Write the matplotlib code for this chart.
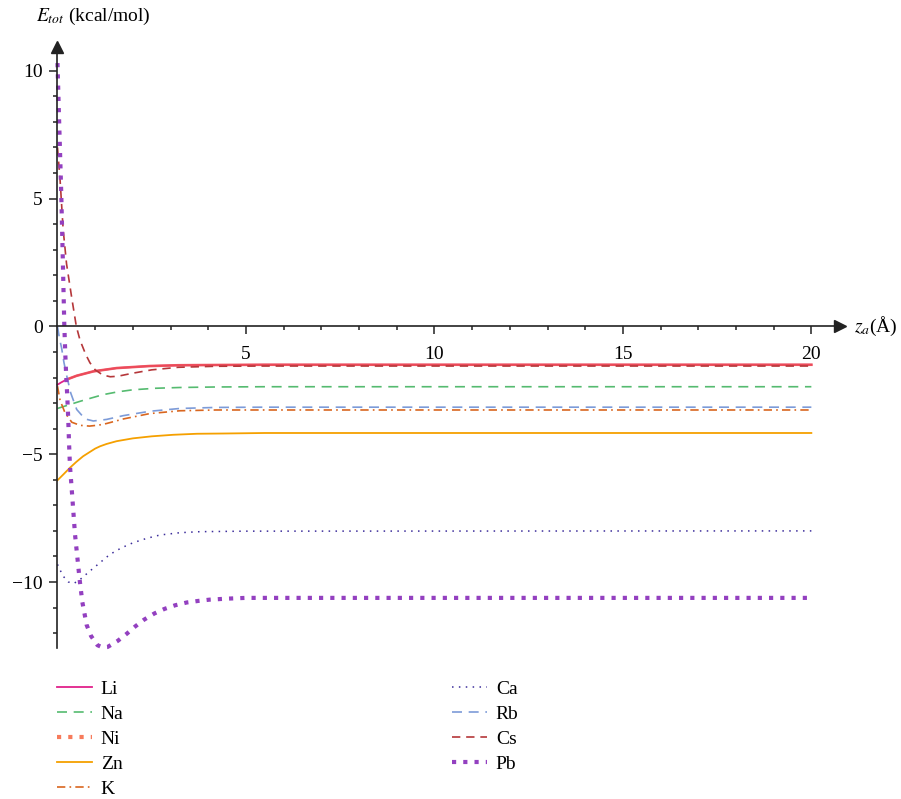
import matplotlib.pyplot as plt
from matplotlib.lines import Line2D

plt.rcParams["font.family"] = ["Liberation Serif", "DejaVu Serif"]
plt.rcParams["mathtext.fontset"] = "stix"

# Energia total frente a la distancia z_a (Angstrom) para cada adsorbato
li_x = [0, 0.1, 0.24, 0.51, 0.95, 1.57, 2.45, 3.2, 4.2, 5.5, 20]
li_y = [-2.28, -2.19, -2.08, -1.93, -1.76, -1.63, -1.55, -1.52, -1.51, -1.50, -1.50]

na_x = [0, 0.3, 0.6, 0.9, 1.21, 1.6, 2.0, 2.6, 3.25, 4.2, 5.5, 20]
na_y = [-3.21, -3.07, -2.93, -2.8, -2.67, -2.56, -2.48, -2.42, -2.39, -2.37, -2.36, -2.36]

ni_x = [0.24, 0.51, 0.95, 1.57, 2.45, 3.2, 4.2, 5.5, 20]
ni_y = [-2.08, -1.93, -1.76, -1.63, -1.55, -1.52, -1.51, -1.50, -1.50]

zn_x = [0, 0.15, 0.33, 0.5, 0.68, 0.85, 1.0, 1.13, 1.3, 1.57, 2.0, 2.5, 3.07, 3.7, 4.4, 5.5, 20]
zn_y = [-6.02, -5.8, -5.53, -5.3, -5.08, -4.92, -4.78, -4.69, -4.6, -4.49, -4.38, -4.3,
        -4.24, -4.2, -4.19, -4.17, -4.17]

k_x = [0, 0.07, 0.2, 0.38, 0.6, 0.85, 1.1, 1.3, 1.75, 2.45, 3.25, 4.2, 5.5, 20]
k_y = [-2.34, -2.9, -3.38, -3.75, -3.87, -3.9, -3.86, -3.8, -3.62, -3.41, -3.3, -3.27, -3.27, -3.27]

ca_x = [0, 0.07, 0.15, 0.29, 0.44, 0.6, 0.86, 1.13, 1.39, 1.7, 2.01, 2.37, 2.72, 3.25, 3.78, 5.0, 20]
ca_y = [-9.31, -9.53, -9.77, -10.0, -10.05, -9.9, -9.57, -9.24, -8.92, -8.66, -8.46, -8.29, -8.16, -8.07, -8.03, -8.01, -8.0]

rb_x = [0, 0.05, 0.11, 0.17, 0.24, 0.35, 0.51, 0.73, 0.95, 1.3, 1.75, 2.45, 3.25, 4.2, 5.5, 20]
rb_y = [0.0, -0.45, -0.85, -1.4, -1.9, -2.6, -3.25, -3.62, -3.7, -3.64, -3.49, -3.32, -3.21, -3.17, -3.16, -3.16]

cs_x = [0, 0.07, 0.15, 0.24, 0.38, 0.5, 0.6, 0.75, 0.86, 1.0, 1.2, 1.4, 1.6, 2.0, 2.5, 3.2, 4.2, 5.5, 20]
cs_y = [7.0, 5.7, 3.8, 2.45, 1.1, 0.0, -0.55, -1.1, -1.42, -1.7, -1.9, -1.97, -1.95, -1.83, -1.7, -1.6, -1.56, -1.55, -1.55]

pb_x = [0, 0.05, 0.1, 0.14, 0.18, 0.205, 0.23, 0.26, 0.285, 0.305, 0.33, 0.376, 0.42, 0.464,
        0.526, 0.588, 0.66, 0.774, 0.89, 1.06, 1.2, 1.33, 1.6, 1.84, 2.06, 2.3, 2.57, 2.84,
        3.12, 3.43, 3.73, 4.03, 4.5, 5.0, 20]
pb_y = [10.3, 7.7, 5.2, 2.7, 0.1, -1.0, -1.9, -2.75, -3.6, -4.5, -5.43, -6.34, -7.23, -8.12,
        -9.02, -9.91, -10.79, -11.68, -12.11, -12.47, -12.56, -12.54, -12.3, -12.02, -11.74,
        -11.47, -11.23, -11.05, -10.91, -10.8, -10.74, -10.69, -10.65, -10.62, -10.62]

fig = plt.figure(figsize=(9.01, 7.99), dpi=100)
ax = fig.add_axes([0.0638, 0.189, 0.8685, 0.7522])

li, = ax.plot(li_x, li_y, color="#e0218a", lw=1.3, label="Li")
na, = ax.plot(na_x, na_y, color="#55bb70", lw=1.2, ls=(0, (6, 4)), label="Na")
ax.plot(ni_x, ni_y, color="#ee4f55", lw=1.9, alpha=0.9)
zn, = ax.plot(zn_x, zn_y, color="#f5a000", lw=1.3, label="Zn")
k, = ax.plot(k_x, k_y, color="#d9661f", lw=1.2, ls=(0, (5, 2.5, 1, 2.5)), label="K")
ca, = ax.plot(ca_x, ca_y, color="#3c2d9b", lw=1.1, ls=(0, (1, 3.5)), label="Ca")
rb, = ax.plot(rb_x, rb_y, color="#7d9bd8", lw=1.2, ls=(0, (6, 4)), label="Rb")
cs, = ax.plot(cs_x, cs_y, color="#b5373a", lw=1.2, ls=(0, (5, 3.5)), label="Cs")
pb, = ax.plot(pb_x, pb_y, color="#9340c0", lw=3, ls=(0, (1, 1.7)), label="Pb")
for ln in ax.lines:
    ln.set_clip_on(False)

# muestra de la leyenda para Ni (puntos gruesos)
ni = Line2D([], [], color="#f77b5b", lw=3, ls=(0, (1, 1.7)), label="Ni")

ax.set_xlim(0, 20.76)
ax.set_ylim(-12.58, 10.93)

# Ejes cruzando en el origen, con flechas
ax.spines["left"].set_position(("data", 0))
ax.spines["bottom"].set_position(("data", 0))
ax.spines["right"].set_visible(False)
ax.spines["top"].set_visible(False)
for s in ("left", "bottom"):
    ax.spines[s].set_color("#222222")
    ax.spines[s].set_linewidth(1.2)
ax.plot(1, 0, ">", color="#222222", ms=9, transform=ax.get_yaxis_transform(), clip_on=False)
ax.plot(0, 1, "^", color="#222222", ms=9, transform=ax.get_xaxis_transform(), clip_on=False)

ax.set_xticks([5, 10, 15, 20])
ax.set_xticks(range(1, 21), minor=True)
ax.set_yticks([-10, -5, 0, 5, 10])
ax.set_yticks(range(-12, 11), minor=True)
ax.set_yticklabels(["\u221210", "\u22125", "0", "5", "10"])
ax.tick_params(which="both", direction="out", color="#222222", width=1.1, labelsize=14)
ax.tick_params(which="major", length=5.5)
ax.tick_params(which="minor", length=3)
ax.tick_params(axis="x", pad=8.5)
ax.tick_params(axis="y", pad=5)

fig.text(36 / 901, 1 - 16 / 799, r"$E_{tot}$ (kcal/mol)", fontsize=14, va="center", ha="left")
fig.text(854 / 901, 1 - 326 / 799, r"$z_a$(Å)", fontsize=14, va="center", ha="left")

fig.legend(handles=[li, na, ni, zn, k, ca, rb, cs, pb], ncol=2, loc="upper left",
           bbox_to_anchor=(57 / 901, 1 - 680 / 799), frameon=False, fontsize=14,
           handlelength=1.8, handletextpad=0.45, columnspacing=16.9,
           labelspacing=0.38, borderpad=0, borderaxespad=0)

fig.savefig("out.png", dpi=100)
